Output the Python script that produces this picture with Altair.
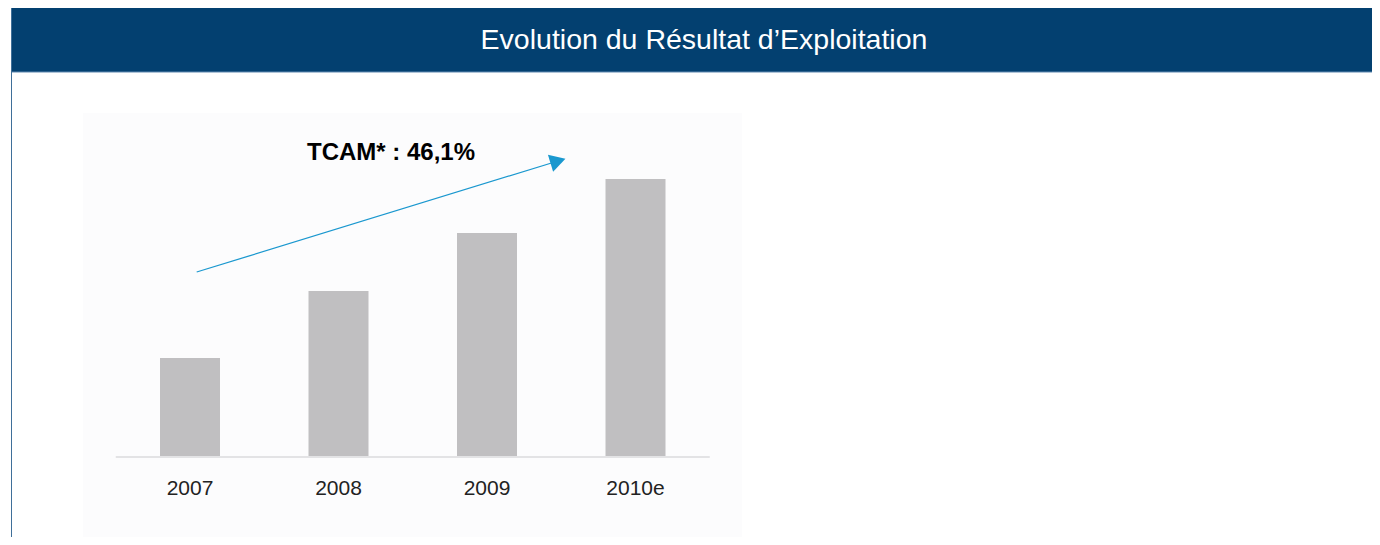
import altair as alt
import pandas as pd

# ---- data ----
years = ["2007", "2008", "2009", "2010e"]
values = [99, 166, 224, 278]          # résultat d'exploitation (relative units)
title_text = "Evolution du Résultat d\u2019Exploitation"
tcam_label = "TCAM* : 46,1%"
arrow_start = [0.045, 185]             # (year index, value)
arrow_end = [2.478, 296]
label_pos = [0.788, 297.5]

W, H = 1364, 529
FONT = "Liberation Sans, Arial, sans-serif"
BLUE = "#034070"
ARROW = "#1a98cf"

bars_df = pd.DataFrame({"year": years, "value": values})
arrow_df = pd.DataFrame({"x": [arrow_start[0]], "y": [arrow_start[1]],
                         "x2": [arrow_end[0]], "y2": [arrow_end[1]]})
head_df = pd.DataFrame({"x": [arrow_end[0]], "y": [arrow_end[1]]})
lab_df = pd.DataFrame({"x": [label_pos[0]], "y": [label_pos[1]], "t": [tcam_label]})
base_df = pd.DataFrame({"x": [-0.5], "x2": [3.5], "y": [0]})
one = pd.DataFrame({"t": [title_text]})

xband = alt.Scale(domain=years, range=[107.75, 701.75], paddingInner=0.596, paddingOuter=0.298)
xlin = alt.Scale(domain=[0, 3], range=[182, 627.5])
ylin = alt.Scale(domain=[0, 300], range=[449, 149])

panel = alt.Chart(one).mark_rect(color="#fcfcfd").encode(
    x=alt.value(75), x2=alt.value(734), y=alt.value(105), y2=alt.value(H))

header = alt.Chart(one).mark_rect(color=BLUE).encode(
    x=alt.value(3), x2=alt.value(W), y=alt.value(0), y2=alt.value(64))
header_line = alt.Chart(one).mark_rule(color="#5f88b0", strokeWidth=1).encode(
    x=alt.value(3), x2=alt.value(W), y=alt.value(64))
left_border = alt.Chart(one).mark_rule(color="#3f6f99", strokeWidth=1).encode(
    x=alt.value(3.5), y=alt.value(0), y2=alt.value(H))
title = alt.Chart(one).mark_text(color="white", font=FONT, fontSize=28.5,
                                 align="center", baseline="middle").encode(
    x=alt.value(696), y=alt.value(32), text="t:N")

bars = alt.Chart(bars_df).mark_bar(color="#c0bfc1").encode(
    x=alt.X("year:N", scale=xband, axis=None, sort=years),
    y=alt.Y("value:Q", scale=ylin, axis=None))

baseline = alt.Chart(base_df).mark_rule(color="#e3e3e5", strokeWidth=2).encode(
    x=alt.X("x:Q", scale=xlin, axis=None), x2="x2:Q",
    y=alt.Y("y:Q", scale=ylin, axis=None))

xlabels = alt.Chart(bars_df).mark_text(font=FONT, fontSize=21, color="#222222",
                                       align="center", baseline="alphabetic").encode(
    x=alt.X("year:N", scale=xband, axis=None, sort=years),
    y=alt.value(487), text="year:N")

arrow = alt.Chart(arrow_df).mark_rule(color=ARROW, strokeWidth=1.2).encode(
    x=alt.X("x:Q", scale=xlin, axis=None), x2="x2:Q",
    y=alt.Y("y:Q", scale=ylin, axis=None), y2="y2:Q")

head = alt.Chart(head_df).mark_point(shape="triangle-right", filled=True, size=324,
                                     angle=343.2, color=ARROW, opacity=1).encode(
    x=alt.X("x:Q", scale=xlin, axis=None),
    y=alt.Y("y:Q", scale=ylin, axis=None))

tcam = alt.Chart(lab_df).mark_text(font=FONT, fontSize=24, fontWeight="bold", color="#000000",
                                   align="left", baseline="alphabetic").encode(
    x=alt.X("x:Q", scale=xlin, axis=None),
    y=alt.Y("y:Q", scale=ylin, axis=None), text="t:N")

chart = alt.layer(panel, header, header_line, left_border, title, bars, baseline,
                  xlabels, arrow, head, tcam).resolve_scale(
    x="independent", y="independent").properties(
    width=W, height=H, padding=0, autosize=alt.AutoSizeParams(type="none"),
    background="white").configure_view(stroke=None)

chart.save("out.html", embed_options={"renderer": "svg", "actions": False})
